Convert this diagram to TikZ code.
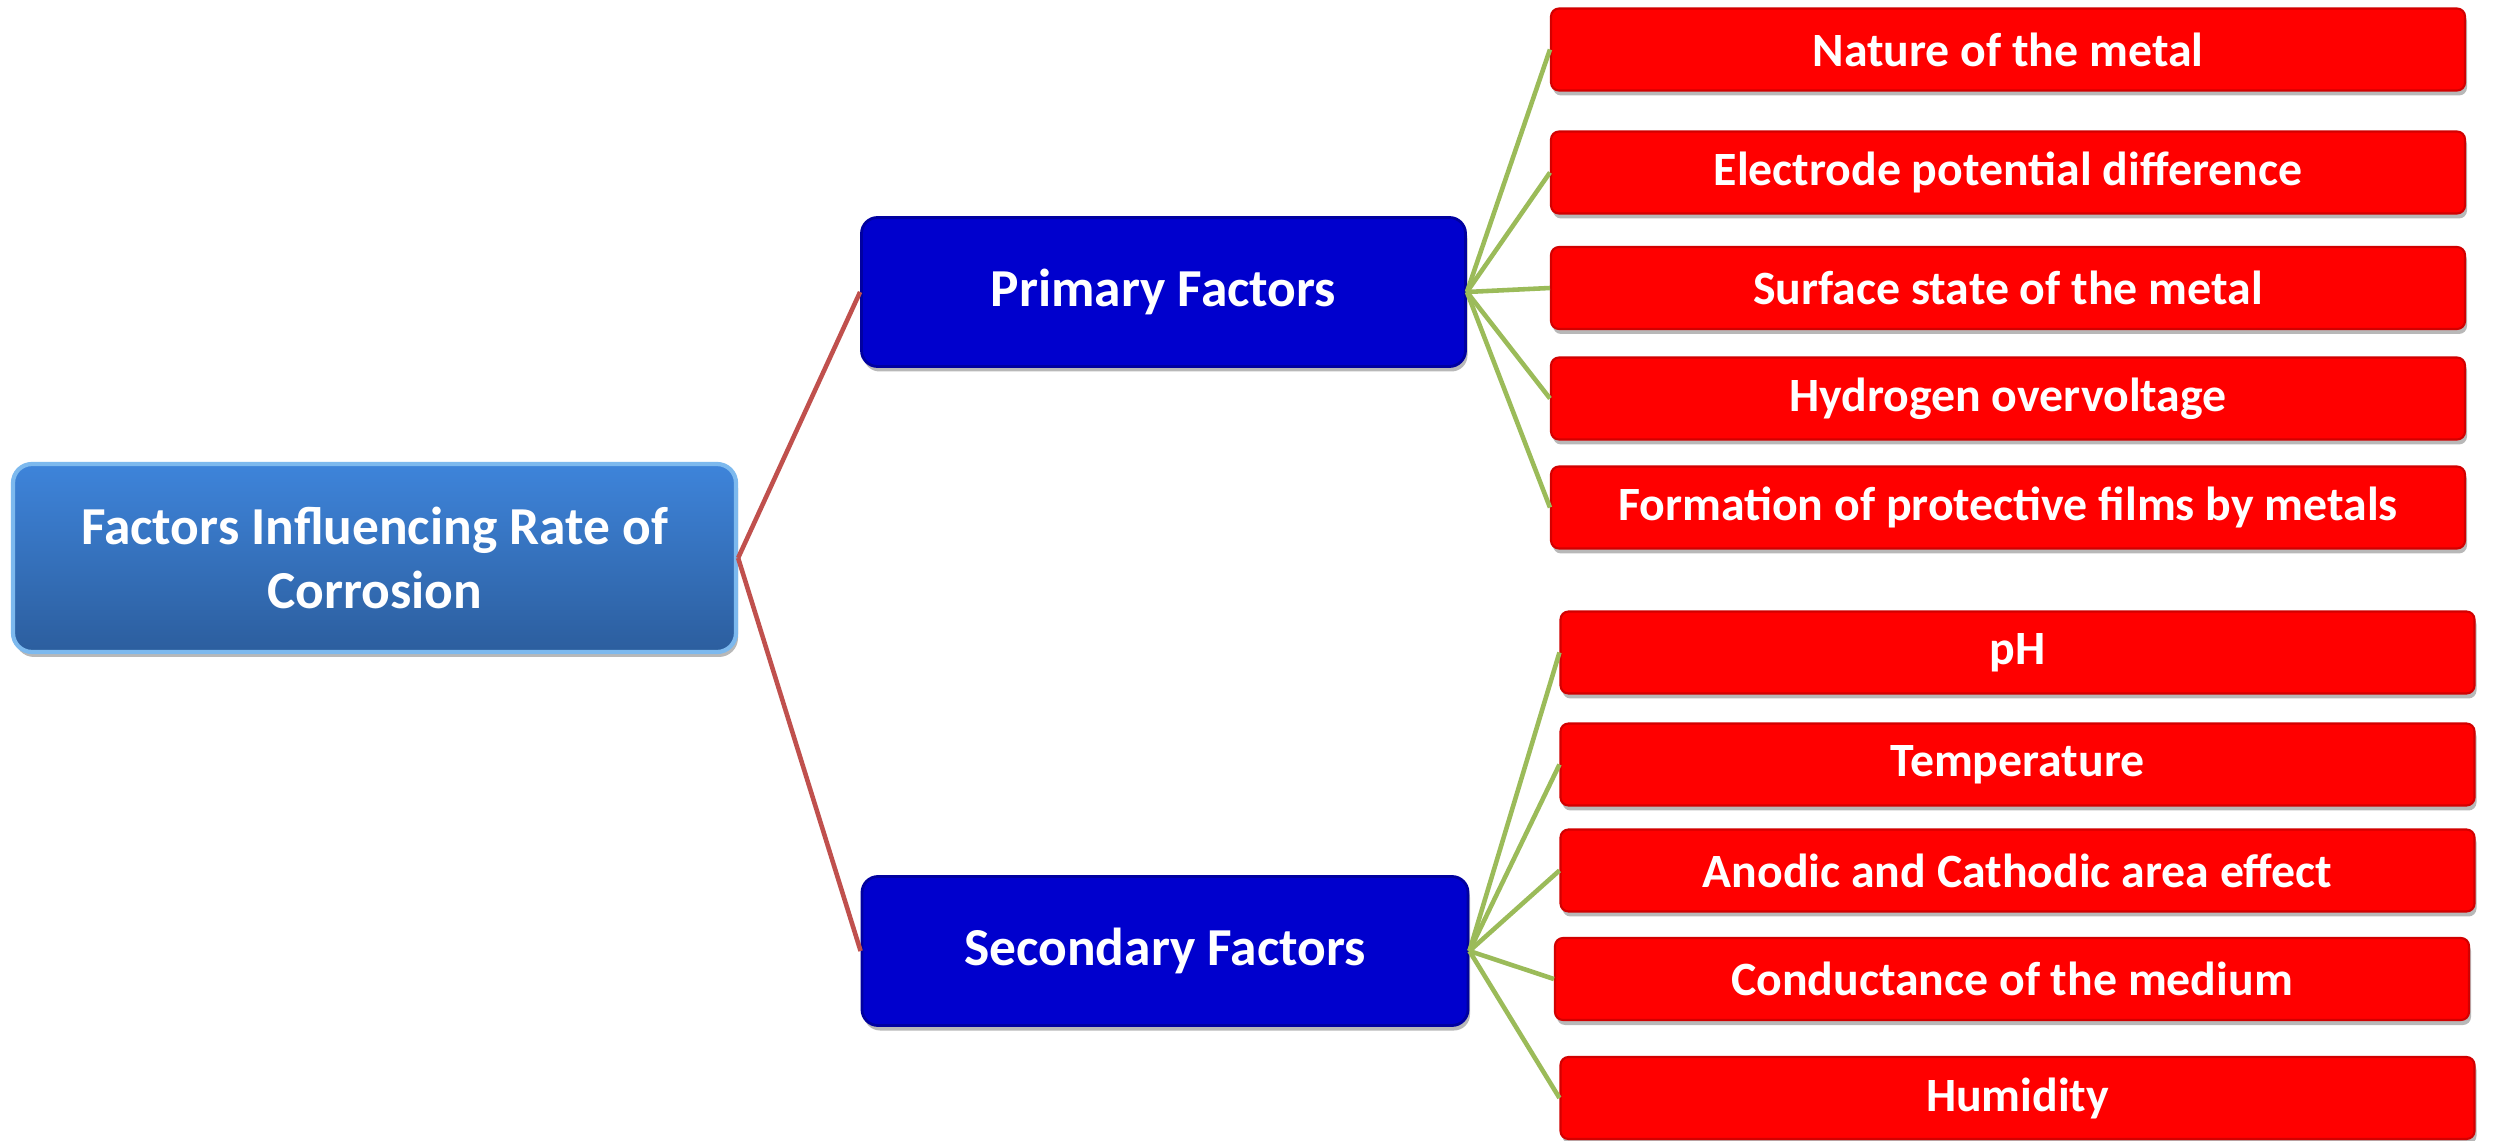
\documentclass[tikz,border=0pt]{standalone}
\usepackage{fontspec}
\setmainfont{Carlito}
\usetikzlibrary{shadows}
\definecolor{rootTop}{RGB}{62,132,218}
\definecolor{rootBot}{RGB}{44,94,158}
\definecolor{rootEdge}{RGB}{125,185,238}
\definecolor{catBlue}{RGB}{0,0,205}
\definecolor{catEdge}{RGB}{0,0,160}
\definecolor{leafRed}{RGB}{255,0,0}
\definecolor{leafEdge}{RGB}{210,0,0}
\definecolor{linkRed}{RGB}{192,80,77}
\definecolor{linkGreen}{RGB}{155,187,89}
\tikzset{
  softshadow/.style={drop shadow={shadow xshift=0.02cm, shadow yshift=-0.05cm, fill=black, opacity=0.28}},
  rootbox/.style={rectangle, rounded corners=0.19cm, top color=rootTop, bottom color=rootBot,
    draw=rootEdge, line width=1.2pt, minimum width=7.23cm, minimum height=1.88cm, inner sep=0pt,
    text=white, align=center, font=\fontsize{15.2}{18}\selectfont\bfseries, softshadow},
  catbox/.style={rectangle, rounded corners=0.16cm, fill=catBlue, draw=catEdge, line width=0.8pt,
    minimum width=6.04cm, minimum height=1.49cm, inner sep=0pt,
    text=white, font=\fontsize{15.2}{18.5}\selectfont\bfseries, softshadow},
  leafbox/.style={rectangle, rounded corners=0.08cm, fill=leafRed, draw=leafEdge, line width=0.6pt,
    minimum width=9.14cm, minimum height=0.82cm, inner sep=0pt,
    text=white, font=\fontsize{13.6}{16}\selectfont\bfseries, softshadow},
  redlink/.style={draw=linkRed, line width=1.3pt},
  greenlink/.style={draw=linkGreen, line width=1.3pt}
}
\begin{document}
\begin{tikzpicture}
\useasboundingbox[fill=white] (0,0) rectangle (24.94,11.40);
% root and categories
\node[rootbox] (root) at (3.745,5.82) {Factors Influencing Rate of\\Corrosion};
\node[catbox] (prim) at (11.635,8.48) {Primary Factors};
\node[catbox, minimum width=6.06cm] (sec) at (11.65,1.89) {Secondary Factors};
% primary leaves
\node[leafbox] (p1) at (20.08,10.905) {Nature of the metal};
\node[leafbox] (p2) at (20.08,9.675) {Electrode potential difference};
\node[leafbox] (p3) at (20.08,8.52) {Surface state of the metal};
\node[leafbox] (p4) at (20.08,7.415) {Hydrogen overvoltage};
\node[leafbox] (p5) at (20.08,6.325) {Formation of protective films by metals};
% secondary leaves
\node[leafbox] (s1) at (20.175,4.875) {pH};
\node[leafbox] (s2) at (20.175,3.755) {Temperature};
\node[leafbox] (s3) at (20.175,2.695) {Anodic and Cathodic area effect};
\node[leafbox] (s4) at (20.12,1.61) {Conductance of the medium};
\node[leafbox] (s5) at (20.175,0.42) {Humidity};
% connectors
\draw[redlink] (root.east) -- (prim.west);
\draw[redlink] (root.east) -- (sec.west);
\foreach \n in {p1,p2,p3,p4,p5} \draw[greenlink] (prim.east) -- (\n.west);
\foreach \n in {s1,s2,s3,s4,s5} \draw[greenlink] (sec.east) -- (\n.west);
\end{tikzpicture}
\end{document}
